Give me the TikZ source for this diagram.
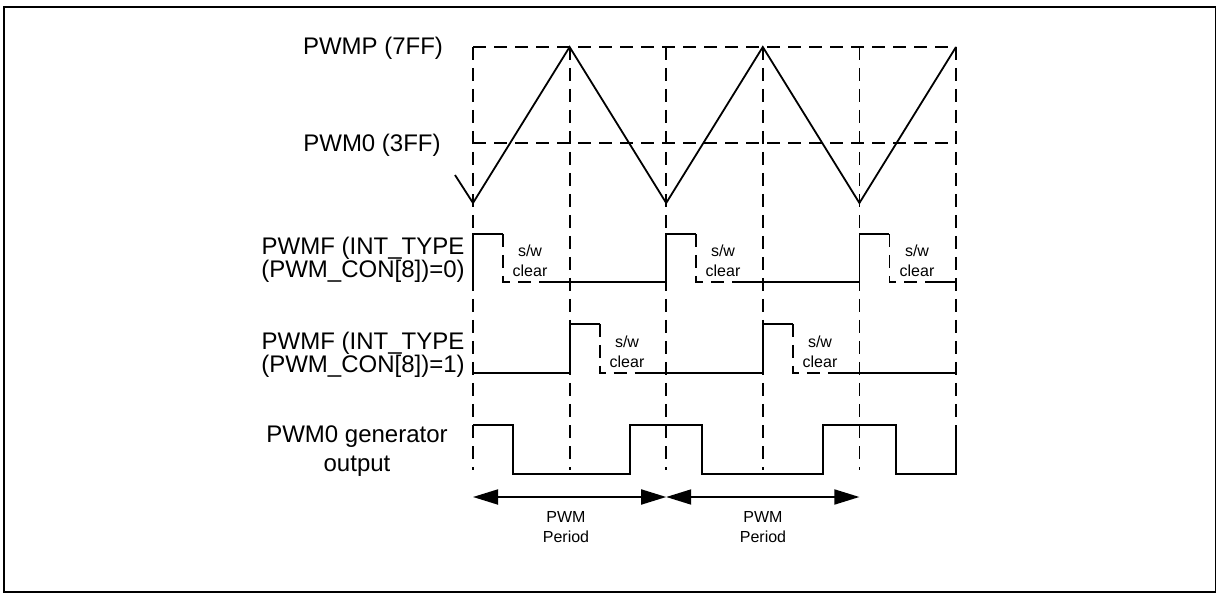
\documentclass[tikz,border=0pt]{standalone}
\usepackage{fontspec}
\setmainfont{Liberation Sans}
\usetikzlibrary{arrows.meta}
\begin{document}
\begin{tikzpicture}[x=0.5pt,y=-0.5pt,line width=0.9pt,
  every node/.style={inner sep=0pt,align=center},
  big/.style={font=\fontsize{12}{11.5}\selectfont},
  small/.style={font=\fontsize{8}{10}\selectfont},
  grid/.style={dash pattern=on 6.5pt off 4pt},
  period/.style={{Triangle[length=12.5pt,width=7.5pt]}-{Triangle[length=12.5pt,width=7.5pt]}}]
\useasboundingbox (0,0) rectangle (1216,593);
\draw[line width=1pt] (3.7,592) -- (3.7,6.8) -- (1215.5,6.8) -- (1215.5,592) -- cycle;
% dashed time marks and levels
\foreach \x in {473,569.6,666.2,762.8,859.4,956}
  \draw[grid] (\x,47) -- (\x,470);
\draw[grid] (473,47) -- (956,47);
\draw[grid] (473,143) -- (956,143);
% counter
\draw (455,175) -- (473,203) -- (569.6,47) -- (666.2,203) -- (762.8,47) -- (859.4,203) -- (956,47);
% PWMF, INT_TYPE=0
\draw (473,282) -- (473,234) -- (503,234);
\draw[grid] (503,234) -- (503,282) -- (545,282);
\draw (545,282) -- (666.2,282) -- (666.2,234) -- (696.2,234);
\draw[grid] (696.2,234) -- (696.2,282) -- (738.2,282);
\draw (738.2,282) -- (859.4,282) -- (859.4,234) -- (889.4,234);
\draw[grid] (889.4,234) -- (889.4,282) -- (931.4,282);
\draw (931.4,282) -- (956,282);
% PWMF, INT_TYPE=1
\draw (473,373) -- (569.6,373) -- (569.6,324) -- (599.6,324);
\draw[grid] (599.6,324) -- (599.6,373) -- (641.6,373);
\draw (641.6,373) -- (762.8,373) -- (762.8,324) -- (792.8,324);
\draw[grid] (792.8,324) -- (792.8,373) -- (834.8,373);
\draw (834.8,373) -- (956,373);
% generator output
\draw (473,425) -- (513,425) -- (513,474) -- (630,474) -- (630,425) -- (702,425) -- (702,474)
  -- (823,474) -- (823,425) -- (896,425) -- (896,474) -- (956,474) -- (956,425);
% labels
\node[big] (lp) at (373,48.5) {PWMP (7FF)};
\node[big] (lz) at (372,145.5) {PWM0 (3FF)};
\node[big] (lfa) at (363,260) {PWMF (INT\_TYPE\\(PWM\_CON[8])=0)};
\node[big] (lfb) at (363,355) {PWMF (INT\_TYPE\\(PWM\_CON[8])=1)};
\node[big] (lo) at (357,451) {PWM0 generator\\[3pt]output};
\foreach \n/\x/\y in {sa/530/261,sb/723/261,sc/917/261,sd/627/352,se/820/352}
  \node[small] (\n) at (\x,\y) {s/w\\clear};
% period arrows
\coordinate (a0) at (473,497);
\coordinate (a1) at (666.2,497);
\coordinate (a2) at (859.4,497);
\foreach \a/\b in {a0/a1,a1/a2}
  \draw[period] (\a) -- (\b);
\node[small] (pp1) at (566,527.5) {PWM\\Period};
\node[small] (pp2) at (763,527.5) {PWM\\Period};
\end{tikzpicture}
\end{document}
